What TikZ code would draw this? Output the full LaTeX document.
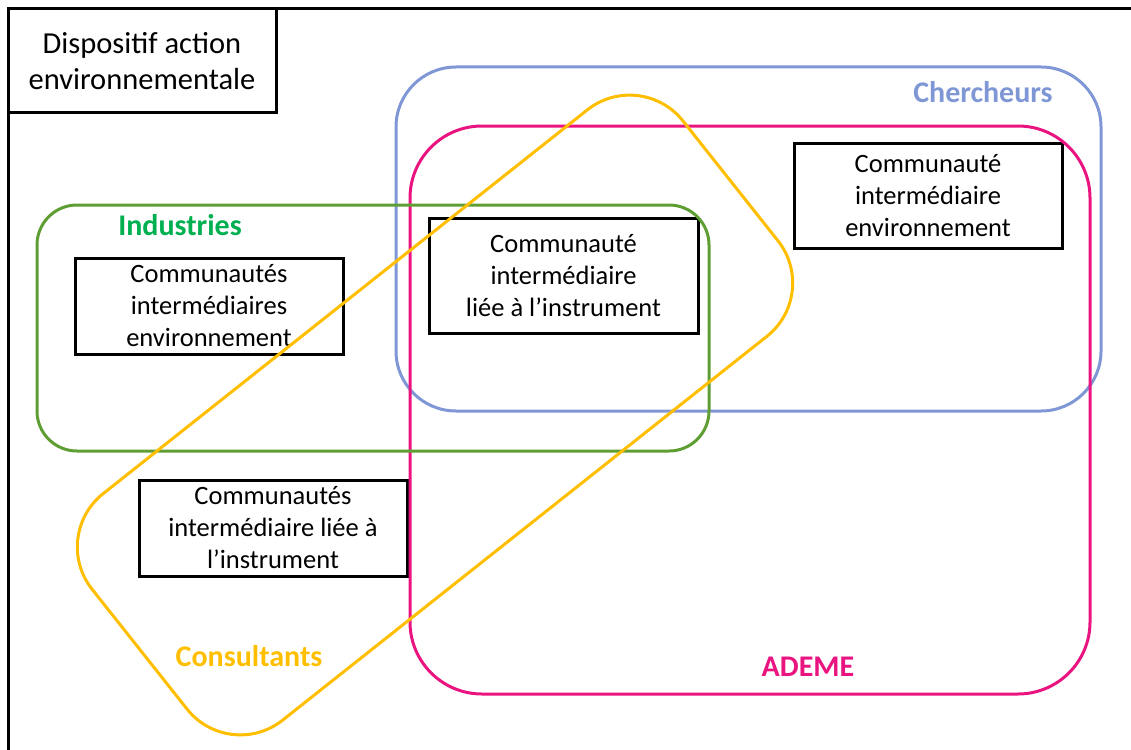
\documentclass[tikz,border=0pt]{standalone}
\usepackage{fontspec}
\setmainfont{Carlito}
\definecolor{cblue}{HTML}{7F97D5}
\definecolor{cpink}{HTML}{EA1480}
\definecolor{cgreen}{HTML}{5E9E32}
\definecolor{cgreenlab}{HTML}{00B050}
\definecolor{cyellow}{HTML}{FFBF00}
\tikzset{
  box/.style={draw=black, line width=3pt, fill=white, inner sep=0pt, align=center,
    font=\fontsize{26.5}{32}\selectfont},
  zone/.style={line width=3pt},
  lab/.style={font=\bfseries\fontsize{30}{34}\selectfont},
}
\begin{document}
\begin{tikzpicture}[x=1pt,y=-1pt]
\useasboundingbox (0,0) rectangle (1131,749);
% outer frame
\draw[line width=3pt] (8,760) -- (8,9) -- (1140,9);
\node[box, minimum width=268pt, minimum height=104pt, font=\fontsize{30.5}{36}\selectfont] (title) at (142,61) {Dispositif action\\environnementale};
% boxes
\node[box, minimum width=268pt, minimum height=96pt] (b1) at (209,306) {Communautés\\intermédiaires\\environnement};
\node[box, minimum width=269pt, minimum height=115pt] (b2) at (563.5,275.5) {Communauté\\intermédiaire\\liée à l’instrument};
\node[box, minimum width=268pt, minimum height=105pt] (b3) at (928,195.5) {Communauté\\intermédiaire\\environnement};
\node[box, minimum width=268pt, minimum height=96pt] (b4) at (273,528) {Communautés\\intermédiaire liée à\\l’instrument};
% zones
\draw[zone, cblue, rounded corners=60pt] (396,67) rectangle (1101,411);
\draw[zone, cpink, rounded corners=72pt] (410,126) rectangle (1090,694);
\draw[zone, cgreen, rounded corners=40pt] (37,205) rectangle (709,451);
\begin{scope}[shift={(435,415)}, rotate=38.4]
  \draw[zone, cyellow, rounded corners=68pt] (-377,-144.5) rectangle (377,144.5);
\end{scope}
% labels
\node[lab, text=cblue] (lchercheurs) at (983,92) {Chercheurs};
\node[lab, text=cgreenlab] (lindustries) at (180,225) {Industries};
\node[lab, text=cyellow] (lconsultants) at (249,656) {Consultants};
\node[lab, text=cpink] (lademe) at (808,667) {ADEME};
\end{tikzpicture}
\end{document}
